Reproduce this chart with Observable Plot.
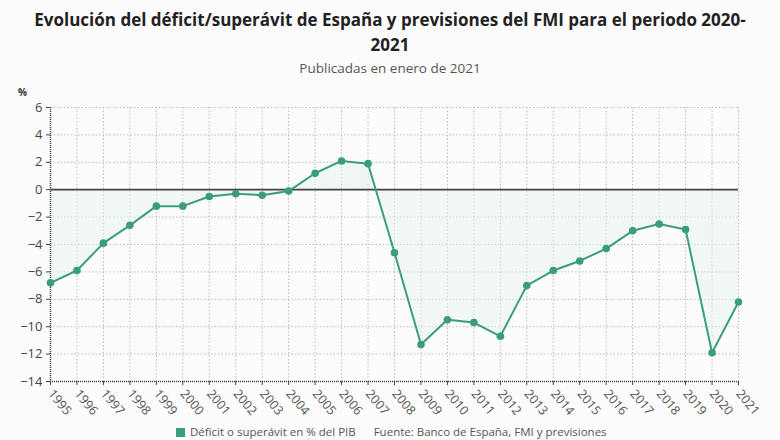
<!DOCTYPE html>
<html>
<head>
<meta charset="utf-8">
<script src="https://cdn.jsdelivr.net/npm/d3@7"></script>
<script src="https://cdn.jsdelivr.net/npm/@observablehq/plot@0.6"></script>
<style>
  html, body { margin: 0; padding: 0; background: #fdfcfd; width: 780px; height: 440px; overflow: hidden; font-family: "Open Sans", sans-serif; }
  #title { position: absolute; top: 7px; left: 0; width: 780px; text-align: center; font-weight: 700; font-size: 17px; line-height: 25px; color: #222; }
  #subtitle { position: absolute; top: 59px; left: 0; width: 780px; text-align: center; font-size: 13.5px; color: #555; }
  #unit { position: absolute; top: 85px; left: 18px; font-size: 10px; font-weight: 700; color: #333; }
  #chart { position: absolute; top: 80px; left: 0; }
  #legend { position: absolute; top: 424px; left: 176px; font-size: 11.5px; line-height: 15px; color: #555; white-space: nowrap; }
  #legend .sw { display: inline-block; width: 9px; height: 9px; background: #3a9e7c; margin-right: 5px; vertical-align: -1px; }
</style>
</head>
<body>
<div id="title">Evolución del déficit/superávit de España y previsiones del FMI para el periodo 2020-<br>2021</div>
<div id="subtitle">Publicadas en enero de 2021</div>
<div id="unit">%</div>
<div id="chart"></div>
<div id="legend"><span class="sw"></span>Déficit o superávit en % del PIB &nbsp;&nbsp;&nbsp;&nbsp; Fuente: Banco de España, FMI y previsiones</div>
<script>
const years = [1995,1996,1997,1998,1999,2000,2001,2002,2003,2004,2005,2006,2007,2008,2009,2010,2011,2012,2013,2014,2015,2016,2017,2018,2019,2020,2021];
const values = [-6.8,-5.9,-3.9,-2.6,-1.2,-1.2,-0.5,-0.3,-0.4,-0.1,1.2,2.1,1.9,-4.6,-11.3,-9.5,-9.7,-10.7,-7.0,-5.9,-5.2,-4.3,-3.0,-2.5,-2.9,-11.9,-8.2];
const yTicks = [6,4,2,0,-2,-4,-6,-8,-10,-12,-14];

const data = years.map((y, i) => ({year: y, value: values[i]}));
const green = "#3a9e7c";

const chart = Plot.plot({
  width: 780,
  height: 350,
  marginTop: 27,
  marginBottom: 49,
  marginLeft: 50,
  marginRight: 42,
  style: {fontFamily: "Open Sans, sans-serif", fontSize: "12px", color: "#444", background: "transparent"},
  x: {domain: [1995, 2021], ticks: years, tickFormat: d => String(d), label: null},
  y: {domain: [-14, 6], ticks: yTicks, label: null},
  marks: [
    Plot.gridX(years, {stroke: "#bbb", strokeOpacity: 1, strokeDasharray: "1.5,2"}),
    Plot.gridY(yTicks, {stroke: "#bbb", strokeOpacity: 1, strokeDasharray: "1.5,2"}),
    Plot.areaY(data, {x: "year", y1: 0, y2: "value", fill: "#e8f3f0", fillOpacity: 0.55}),
    Plot.ruleX([1995], {stroke: "#444", strokeDasharray: "1,1", strokeWidth: 1.5}),
    Plot.ruleY([-14], {stroke: "#444", strokeDasharray: "1,1", strokeWidth: 1.5}),
    Plot.ruleY([0], {stroke: "#444", strokeWidth: 1.8}),
    Plot.axisY(yTicks, {tickSize: 4, tickPadding: 4, fontSize: 13, fill: "#444", stroke: "#444", label: null}),
    Plot.axisX(years, {tickSize: 4, tickRotate: 50, tickPadding: 6, fontSize: 12.5, fill: "#555", stroke: "#444", label: null, tickFormat: d => String(d)}),
    Plot.line(data, {x: "year", y: "value", stroke: green, strokeWidth: 2}),
    Plot.dot(data, {x: "year", y: "value", r: 3.8, fill: green})
  ]
});
document.getElementById("chart").append(chart);
</script>
</body>
</html>
